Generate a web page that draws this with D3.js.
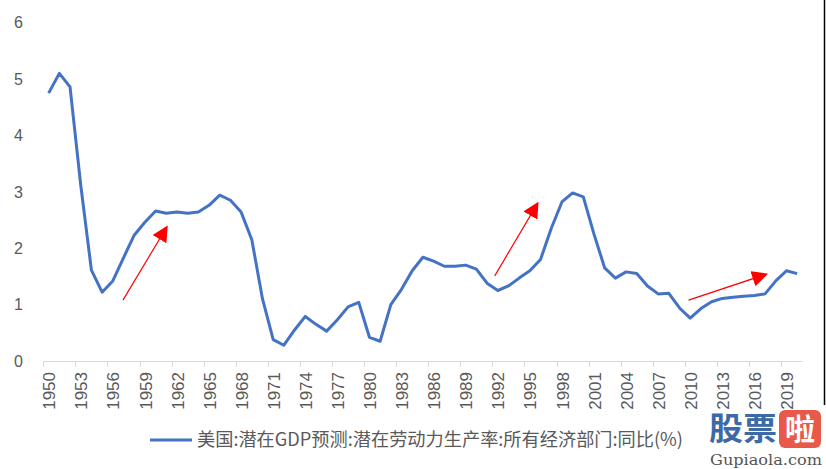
<!DOCTYPE html>
<html>
<head>
<meta charset="utf-8">
<script src="https://cdn.jsdelivr.net/npm/d3@7"></script>
<style>
  html, body { margin: 0; padding: 0; background: #fff; }
  svg { display: block; }
</style>
</head>
<body>
<svg id="chart" width="826" height="469"></svg>
<script>
// ---- data ----
const years = d3.range(1950, 2021);
const values = [
  4.75, 5.10, 4.86, 3.12, 1.61, 1.22, 1.42, 1.83, 2.23, 2.46,
  2.66, 2.62, 2.64, 2.62, 2.64, 2.76, 2.94, 2.85, 2.64, 2.15,
  1.10, 0.38, 0.28, 0.55, 0.79, 0.65, 0.53, 0.73, 0.96, 1.04,
  0.42, 0.35, 1.00, 1.27, 1.60, 1.84, 1.77, 1.68, 1.68, 1.70,
  1.63, 1.38, 1.25, 1.33, 1.47, 1.60, 1.80, 2.35, 2.82, 2.98,
  2.91, 2.25, 1.65, 1.47, 1.58, 1.55, 1.33, 1.19, 1.20, 0.94,
  0.76, 0.93, 1.05, 1.11, 1.13, 1.15, 1.16, 1.19, 1.42, 1.60,
  1.55
];
const yTicks = [0, 1, 2, 3, 4, 5, 6];
const xTickLabels = d3.range(1950, 2021, 3);
const seriesName = "美国:潜在GDP预测:潜在劳动力生产率:所有经济部门:同比(%)";
// annotation arrows: [startYear, startValue, endYear, endValue]
const arrowsData = [
  [1956.95, 1.08, 1961.06, 2.38],
  [1991.72, 1.51, 1995.74, 2.80],
  [2009.85, 1.08, 2017.14, 1.54]
];

// ---- layout ----
const svg = d3.select("#chart");
const x0 = 43.3, x1 = 802.5, yBase = 361, yTop = 22.6;
const x = d3.scaleLinear().domain([1949.5, 2020.5]).range([x0, x1]);
const y = d3.scaleLinear().domain([0, 6]).range([yBase, yTop]);

const grey = "#595959";
const font = "'Liberation Sans', 'Noto Sans CJK SC', Arial, sans-serif";

// y labels
svg.append("g").selectAll("text").data(yTicks).join("text")
  .attr("x", 23).attr("y", d => y(d)).attr("dy", "0.36em")
  .attr("text-anchor", "end")
  .attr("font-family", font).attr("font-size", 16).attr("fill", grey)
  .text(d => d);

// x axis line + ticks at category boundaries
const axisG = svg.append("g");
axisG.append("line")
  .attr("x1", x0).attr("x2", x1).attr("y1", yBase + 0.5).attr("y2", yBase + 0.5)
  .attr("stroke", "#d9d9d9").attr("stroke-width", 1);
axisG.selectAll("line.tick").data(xTickLabels).join("line")
  .attr("class", "tick")
  .attr("x1", d => Math.round(x(d - 0.5)) + 0.5).attr("x2", d => Math.round(x(d - 0.5)) + 0.5)
  .attr("y1", yBase).attr("y2", yBase + 6)
  .attr("stroke", "#d9d9d9").attr("stroke-width", 1);
axisG.selectAll("text").data(xTickLabels).join("text")
  .attr("transform", d => `translate(${x(d) + 0.5},372) rotate(-90)`)
  .attr("text-anchor", "end").attr("dy", "0.36em")
  .attr("font-family", font).attr("font-size", 17).attr("fill", grey)
  .text(d => d);

// line
const line = d3.line().x((d, i) => x(years[i])).y(d => y(d));
svg.append("path").datum(values)
  .attr("d", line)
  .attr("fill", "none").attr("stroke", "#4472C4")
  .attr("stroke-width", 3).attr("stroke-linejoin", "round");

// arrows
const defs = svg.append("defs");
defs.append("marker").attr("id", "arrowhead")
  .attr("viewBox", "0 0 10 10").attr("refX", 9).attr("refY", 5)
  .attr("markerWidth", 16).attr("markerHeight", 16)
  .attr("markerUnits", "userSpaceOnUse").attr("orient", "auto")
  .append("path").attr("d", "M0,0 L10,5 L0,10 z").attr("fill", "#ff0000");
svg.append("g").selectAll("line").data(arrowsData).join("line")
  .attr("x1", d => x(d[0])).attr("y1", d => y(d[1]))
  .attr("x2", d => x(d[2])).attr("y2", d => y(d[3]))
  .attr("stroke", "#ff0000").attr("stroke-width", 1.2)
  .attr("marker-end", "url(#arrowhead)");

// legend
const lg = svg.append("g");
lg.append("line").attr("x1", 150).attr("x2", 192).attr("y1", 440).attr("y2", 440)
  .attr("stroke", "#4472C4").attr("stroke-width", 3);
lg.append("text").attr("x", 197).attr("y", 440).attr("dy", "0.36em")
  .attr("font-family", "'Noto Sans CJK SC', sans-serif").attr("font-size", 18)
  .attr("fill", grey).attr("textLength", 486).attr("lengthAdjust", "spacingAndGlyphs")
  .text(seriesName);

// right border line
svg.append("line").attr("x1", 824.5).attr("x2", 824.5).attr("y1", 0).attr("y2", 405)
  .attr("stroke", "#000").attr("stroke-width", 1.5);

// watermark
const wm = svg.append("g");
wm.append("text").attr("x", 709).attr("y", 440)
  .attr("font-family", "'Noto Sans CJK SC', sans-serif").attr("font-weight", "bold")
  .attr("font-size", 32).attr("fill", "#3d6aa6").attr("textLength", 68)
  .attr("lengthAdjust", "spacingAndGlyphs")
  .text("股票");
wm.append("rect").attr("x", 779).attr("y", 410).attr("width", 42).attr("height", 38)
  .attr("rx", 6).attr("fill", "#e8594a");
wm.append("text").attr("x", 800).attr("y", 440).attr("text-anchor", "middle")
  .attr("font-family", "'Noto Sans CJK SC', sans-serif").attr("font-weight", "bold")
  .attr("font-size", 30).attr("fill", "#fff")
  .text("啦");
wm.append("text").attr("x", 710).attr("y", 465)
  .attr("font-family", "'DejaVu Serif', serif").attr("font-size", 14)
  .attr("fill", "#555").attr("textLength", 112).attr("lengthAdjust", "spacingAndGlyphs")
  .text("Gupiaola.com");
</script>
</body>
</html>
